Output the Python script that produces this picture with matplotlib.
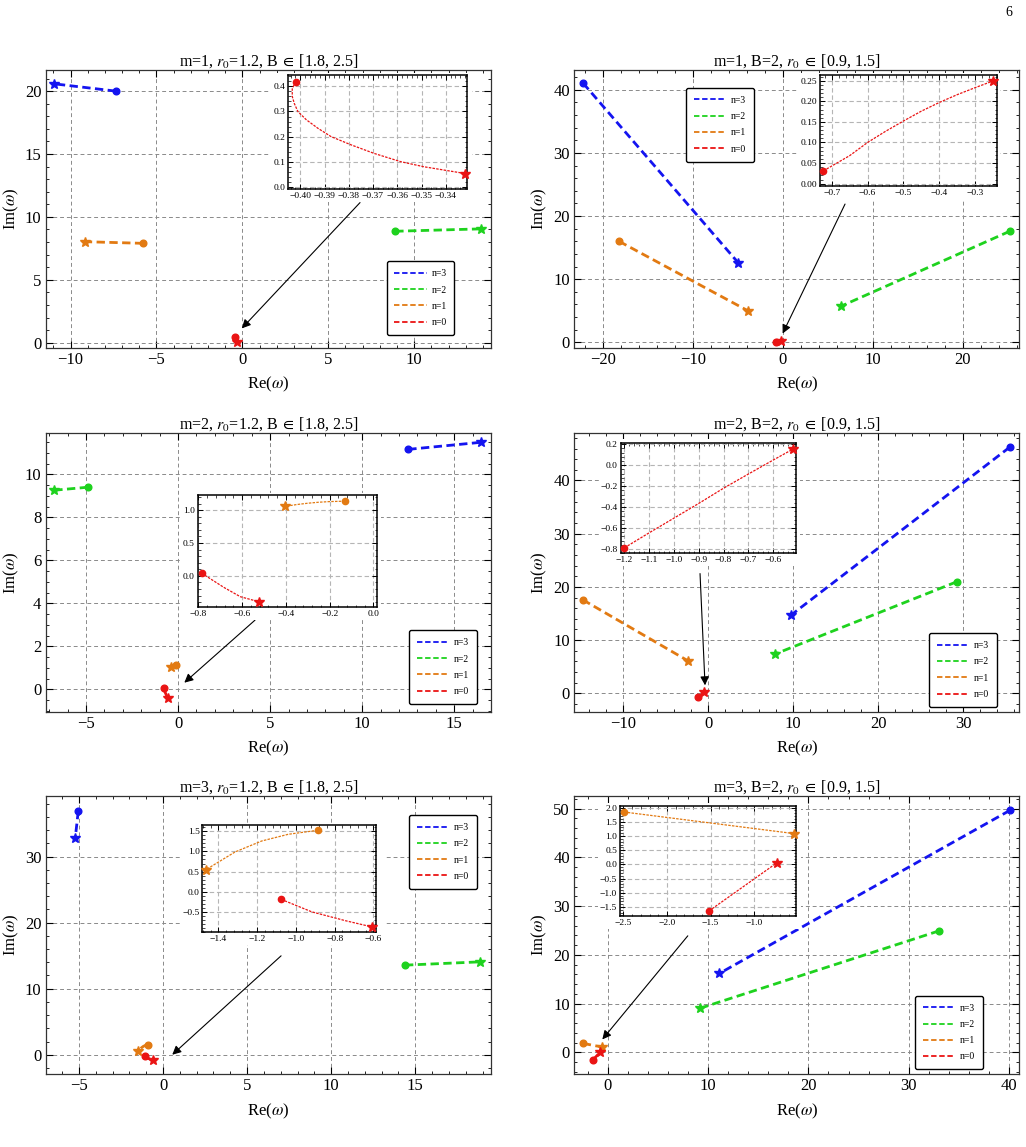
import numpy as np
import matplotlib.pyplot as plt
from matplotlib.lines import Line2D
from matplotlib.patches import Rectangle
from matplotlib.ticker import MultipleLocator, AutoMinorLocator, FuncFormatter

plt.rcParams.update({"font.family": ["Liberation Serif", "DejaVu Serif"],
                     "mathtext.fontset": "stix", "axes.unicode_minus": True})

C3 = "#1414f0"; C2 = "#1ed21e"; C1 = "#e27a12"; C0 = "#ea1414"
COLS = [C3, C2, C1, C0]
LABS = ["n=3", "n=2", "n=1", "n=0"]

# ---------- data: first point = circle, last point = star ----------
# (a) m=1, r0=1.2, B in [1.8, 2.5]
a_n3_re = [-7.36, -10.95];  a_n3_im = [20.00, 20.58]
a_n2_re = [8.90, 13.90];    a_n2_im = [8.86, 9.05]
a_n1_re = [-5.77, -9.16];   a_n1_im = [7.90, 8.03]
a_n0_re = [-0.4019, -0.4033, -0.4033, -0.4025, -0.4010, -0.3975, -0.3927,
           -0.3873, -0.3790, -0.3695, -0.3585, -0.3490, -0.3320]
a_n0_im = [0.419, 0.390, 0.360, 0.333, 0.300, 0.267, 0.233,
           0.200, 0.167, 0.133, 0.100, 0.080, 0.053]

# (b) m=1, B=2, r0 in [0.9, 1.5]
b_n3_re = [-22.2, -4.96];   b_n3_im = [41.06, 12.6]
b_n2_re = [25.2, 6.44];     b_n2_im = [17.6, 5.72]
b_n1_re = [-18.2, -3.92];   b_n1_im = [16.0, 5.03]
b_n0_re = [-0.7234, -0.65, -0.60, -0.55, -0.50, -0.45, -0.40, -0.35, -0.30, -0.2506]
b_n0_im = [0.031, 0.068, 0.100, 0.127, 0.152, 0.176, 0.197, 0.216, 0.233, 0.249]

# (c) m=2, r0=1.2, B in [1.8, 2.5]
c_n3_re = [12.5, 16.47];    c_n3_im = [11.16, 11.49]
c_n2_re = [-4.89, -6.72];   c_n2_im = [9.40, 9.26]
c_n1_re = [-0.130, -0.20, -0.25, -0.30, -0.35, -0.406]
c_n1_im = [1.136, 1.130, 1.120, 1.105, 1.085, 1.056]
c_n0_re = [-0.785, -0.683, -0.608, -0.524]
c_n0_im = [0.040, -0.177, -0.318, -0.394]

# (d) m=2, B=2, r0 in [0.9, 1.5]
d_n3_re = [35.5, 9.74];     d_n3_im = [46.25, 14.7]
d_n2_re = [29.26, 7.86];    d_n2_im = [20.96, 7.38]
d_n1_re = [-14.8, -2.43];   d_n1_im = [17.58, 6.13]
d_n0_re = [-1.20, -1.10, -1.00, -0.90, -0.80, -0.70, -0.60, -0.5205]
d_n0_im = [-0.788, -0.645, -0.505, -0.365, -0.220, -0.085, 0.048, 0.152]

# (e) m=3, r0=1.2, B in [1.8, 2.5]
e_n3_re = [-5.04, -5.22];   e_n3_im = [36.9, 32.8]
e_n2_re = [14.39, 18.87];   e_n2_im = [13.56, 14.06]
e_n1_re = [-0.887, -1.039, -1.176, -1.314, -1.4635]
e_n1_im = [1.525, 1.426, 1.260, 0.987, 0.550]
e_n0_re = [-1.076, -0.918, -0.744, -0.608]
e_n0_im = [-0.19, -0.50, -0.72, -0.873]

# (f) m=3, B=2, r0 in [0.9, 1.5]
f_n3_re = [40.1, 11.13];    f_n3_im = [49.65, 16.19]
f_n2_re = [33.03, 9.17];    f_n2_im = [24.92, 9.02]
f_n1_re = [-2.492, -0.545]; f_n1_im = [1.845, 1.085]
f_n0_re = [-1.518, -0.743]; f_n0_im = [-1.64, 0.05]

TITLES = [r"m=1, $r_0$=1.2, B$\;\in\;$[1.8, 2.5]", r"m=1, B=2, $r_0\;\in\;$[0.9, 1.5]",
          r"m=2, $r_0$=1.2, B$\;\in\;$[1.8, 2.5]", r"m=2, B=2, $r_0\;\in\;$[0.9, 1.5]",
          r"m=3, $r_0$=1.2, B$\;\in\;$[1.8, 2.5]", r"m=3, B=2, $r_0\;\in\;$[0.9, 1.5]"]

# ---------- layout ----------
XL, XR, W = 0.0445, 0.5595, 0.434
ROWS = [0.6966, 0.3795, 0.0634]; H = 0.2426

PANELS = [
    dict(pos=[XL, ROWS[0], W, H], xlim=(-11.45, 14.47), ylim=(-0.42, 21.7), st=(5, 5),
         series=[(a_n3_re, a_n3_im), (a_n2_re, a_n2_im), (a_n1_re, a_n1_im), (a_n0_re, a_n0_im)],
         leg=("lower right", (0.918, 0.047)), arrow=((6.85, 11.14), (-0.03, 1.14)),
         inset=dict(rect=[0.544, 0.571, 0.403, 0.409], xlim=(-0.4051, -0.3311), ylim=(-0.009, 0.444),
                    xt=[-0.40, -0.39, -0.38, -0.37, -0.36, -0.35, -0.34], yt=[0.0, 0.1, 0.2, 0.3, 0.4],
                    xd=2, yd=1, lines=[(C0, a_n0_re, a_n0_im)])),
    dict(pos=[XR, ROWS[0], W, H], xlim=(-23.2, 26.26), ylim=(-0.89, 43.17), st=(10, 10),
         series=[(b_n3_re, b_n3_im), (b_n2_re, b_n2_im), (b_n1_re, b_n1_im), (b_n0_re, b_n0_im)],
         leg=("upper left", (0.2515, 0.934)), arrow=((6.9, 21.9), (-0.03, 1.4)),
         inset=dict(rect=[0.5524, 0.582, 0.397, 0.399], xlim=(-0.7327, -0.2394), ylim=(-0.0058, 0.2637),
                    xt=[-0.7, -0.6, -0.5, -0.4, -0.3], yt=[0.0, 0.05, 0.10, 0.15, 0.20, 0.25],
                    xd=1, yd=2, lines=[(C0, b_n0_re, b_n0_im)])),
    dict(pos=[XL, ROWS[1], W, H], xlim=(-7.19, 16.99), ylim=(-1.04, 11.9), st=(5, 2),
         series=[(c_n3_re, c_n3_im), (c_n2_re, c_n2_im), (c_n1_re, c_n1_im), (c_n0_re, c_n0_im)],
         leg=("lower right", (0.9685, 0.028)), arrow=((4.18, 3.22), (0.34, 0.31)),
         inset=dict(rect=[0.3416, 0.375, 0.4034, 0.4045], xlim=(-0.8027, 0.018), ylim=(-0.48, 1.233),
                    xt=[-0.8, -0.6, -0.4, -0.2, 0.0], yt=[0.0, 0.5, 1.0],
                    xd=1, yd=1, lines=[(C1, c_n1_re, c_n1_im), (C0, c_n0_re, c_n0_im)])),
    dict(pos=[XR, ROWS[1], W, H], xlim=(-15.82, 36.63), ylim=(-3.46, 48.83), st=(10, 10),
         series=[(d_n3_re, d_n3_im), (d_n2_re, d_n2_im), (d_n1_re, d_n1_im), (d_n0_re, d_n0_im)],
         leg=("lower right", (0.949, 0.018)), arrow=((-0.98, 22.5), (-0.39, 1.5)),
         inset=dict(rect=[0.1049, 0.569, 0.3944, 0.395], xlim=(-1.2145, -0.506), ylim=(-0.841, 0.2067),
                    xt=[-1.2, -1.1, -1.0, -0.9, -0.8, -0.7, -0.6], yt=[-0.8, -0.6, -0.4, -0.2, 0.0, 0.2],
                    xd=1, yd=1, lines=[(C0, d_n0_re, d_n0_im)])),
    dict(pos=[XL, ROWS[2], W, H], xlim=(-6.98, 19.5), ylim=(-2.96, 39.16), st=(5, 10),
         series=[(e_n3_re, e_n3_im), (e_n2_re, e_n2_im), (e_n1_re, e_n1_im), (e_n0_re, e_n0_im)],
         leg=("upper right", (0.9685, 0.931)), arrow=((7.02, 14.97), (0.55, 0.0)),
         inset=dict(rect=[0.352, 0.5097, 0.3896, 0.3876], xlim=(-1.4826, -0.5876), ylim=(-1.011, 1.666),
                    xt=[-1.4, -1.2, -1.0, -0.8, -0.6], yt=[-0.5, 0.0, 0.5, 1.0, 1.5],
                    xd=1, yd=1, lines=[(C1, e_n1_re, e_n1_im), (C0, e_n0_re, e_n0_im)])),
    dict(pos=[XR, ROWS[2], W, H], xlim=(-3.36, 41.03), ylim=(-4.5, 52.58), st=(10, 10),
         series=[(f_n3_re, f_n3_im), (f_n2_re, f_n2_im), (f_n1_re, f_n1_im), (f_n0_re, f_n0_im)],
         leg=("lower right", (0.918, 0.018)), arrow=((7.98, 23.9), (-0.54, 2.65)),
         inset=dict(rect=[0.1033, 0.568, 0.3957, 0.395], xlim=(-2.538, -0.519), ylim=(-1.827, 2.046),
                    xt=[-2.5, -2.0, -1.5, -1.0], yt=[-1.5, -1.0, -0.5, 0.0, 0.5, 1.0, 1.5, 2.0],
                    xd=1, yd=1, lines=[(C1, f_n1_re, f_n1_im), (C0, f_n0_re, f_n0_im)])),
]


def fmt(nd):
    def f(v, pos):
        s = f"{v:.{nd}f}"
        if float(s) == 0:
            s = s.lstrip("-")
        return s.replace("-", "\u2212")
    return FuncFormatter(f)


def frame(a, lw, col):
    for s in a.spines.values():
        s.set_linewidth(lw); s.set_color(col)


fig = plt.figure(figsize=(10.26, 11.47), dpi=100)
covers = []

for p, title in zip(PANELS, TITLES):
    ax = fig.add_axes(p["pos"])
    ax.set_xlim(p["xlim"]); ax.set_ylim(p["ylim"])
    ax.xaxis.set_major_locator(MultipleLocator(p["st"][0]))
    ax.yaxis.set_major_locator(MultipleLocator(p["st"][1]))
    ax.xaxis.set_minor_locator(AutoMinorLocator(5))
    ax.yaxis.set_minor_locator(AutoMinorLocator(5 if p["st"][1] != 2 else 4))
    ax.tick_params(which="both", direction="in", top=True, right=True, labelsize=12, pad=3)
    ax.tick_params(which="major", length=5, width=0.8)
    ax.tick_params(which="minor", length=2.5, width=0.6)
    ax.grid(True, which="major", color="#8a8a8a", lw=0.7, ls=(0, (4, 3)))
    frame(ax, 0.9, "#333333")
    ax.set_title(title, fontsize=11.5, pad=2)
    ax.set_xlabel(r"Re($\omega$)", fontsize=12, labelpad=5)
    ax.set_ylabel(r"Im($\omega$)", fontsize=12, labelpad=3)

    for (re, im), c in zip(p["series"], COLS):
        ax.plot(re, im, color=c, lw=2.0, dashes=(3, 1.6), zorder=2)
        ax.plot(re[0], im[0], "o", color=c, ms=4.8, zorder=3)
        ax.plot(re[-1], im[-1], "*", color=c, ms=7.5, zorder=3)

    handles = [Line2D([], [], color=c, lw=1.3, dashes=(3, 1.5)) for c in COLS]
    leg = ax.legend(handles, LABS, loc=p["leg"][0], bbox_to_anchor=p["leg"][1],
                    borderaxespad=0, fontsize=7, handlelength=3.3, handletextpad=0.5,
                    labelspacing=0.75, borderpad=0.8, fancybox=True, framealpha=1,
                    edgecolor="black")
    leg.get_frame().set_linewidth(1.0)
    leg.set_zorder(6)

    st, en = p["arrow"]
    ax.annotate("", xy=en, xytext=st, zorder=3,
                arrowprops=dict(arrowstyle="-|>", color="black", lw=0.8,
                                mutation_scale=13, shrinkA=0, shrinkB=0))

    # inset
    q = p["inset"]
    ins = ax.inset_axes(q["rect"])
    ins.set_zorder(5)
    ins.set_xlim(q["xlim"]); ins.set_ylim(q["ylim"])
    ins.set_xticks(q["xt"]); ins.set_yticks(q["yt"])
    ins.xaxis.set_major_formatter(fmt(q["xd"]))
    ins.yaxis.set_major_formatter(fmt(q["yd"]))
    ins.xaxis.set_minor_locator(AutoMinorLocator(5))
    ins.yaxis.set_minor_locator(AutoMinorLocator(5))
    ins.tick_params(which="both", direction="in", top=True, right=True, labelsize=6.8, pad=2)
    ins.tick_params(which="major", length=3.5, width=0.7)
    ins.tick_params(which="minor", length=1.8, width=0.5)
    ins.grid(True, which="major", color="#b5b5b5", lw=0.8, ls=(0, (4, 2.5)))
    frame(ins, 1.1, "black")
    for c, re, im in q["lines"]:
        ins.plot(re, im, color=c, lw=0.9, dashes=(2, 1), zorder=2)
        ins.plot(re[0], im[0], "o", color=c, ms=4.5, zorder=3, clip_on=False)
        ins.plot(re[-1], im[-1], "*", color=c, ms=7, zorder=3, clip_on=False)

    # white backing behind inset and its labels (hides main grid)
    rect = Rectangle((0, 0), 0, 0, transform=ax.transAxes, fc="white", ec="none",
                     zorder=4, clip_on=False)
    ax.add_patch(rect)
    covers.append((ax, ins, rect))

fig.text(0.987, 0.989, "6", ha="right", va="center", fontsize=10)

fig.canvas.draw()
rend = fig.canvas.get_renderer()
for ax, ins, rect in covers:
    bb = ins.get_tightbbox(rend)
    (x0, y0), (x1, y1) = ax.transAxes.inverted().transform(
        [[bb.x0 - 2, bb.y0 - 2], [bb.x1 + 2, bb.y1 + 2]])
    rect.set_bounds(x0, y0, x1 - x0, y1 - y0)

fig.savefig("out.png", dpi=100)
